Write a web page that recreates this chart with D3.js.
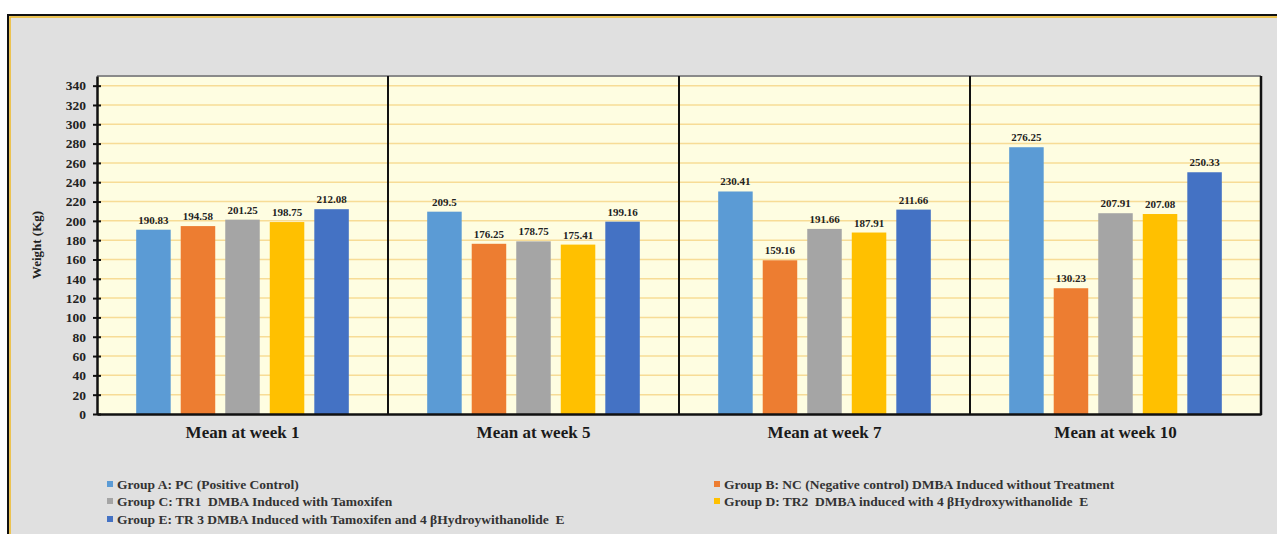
<!DOCTYPE html>
<html>
<head>
<meta charset="utf-8">
<script src="https://cdn.jsdelivr.net/npm/d3@7"></script>
<style>
  body { margin: 0; background: #fff; }
  svg text { font-family: "Times New Roman", "Liberation Serif", "DejaVu Serif", serif; font-weight: bold; white-space: pre; }
</style>
</head>
<body>
<div id="chart"></div>
<script>
// data
const weeks = ["Mean at week 1", "Mean at week 5", "Mean at week 7", "Mean at week 10"];
const groups = ["A", "B", "C", "D", "E"];
const groupNames = [
  "Group A: PC (Positive Control)",
  "Group B: NC (Negative control) DMBA Induced without Treatment",
  "Group C: TR1  DMBA Induced with Tamoxifen",
  "Group D: TR2  DMBA induced with 4 \u03b2Hydroxywithanolide  E",
  "Group E: TR 3 DMBA Induced with Tamoxifen and 4 \u03b2Hydroywithanolide  E"
];
const groupA = [190.83, 209.5, 230.41, 276.25];
const groupB = [194.58, 176.25, 159.16, 130.23];
const groupC = [201.25, 178.75, 191.66, 207.91];
const groupD = [198.75, 175.41, 187.91, 207.08];
const groupE = [212.08, 199.16, 211.66, 250.33];
const yTicks = d3.range(0, 341, 20);

const colors = ["#5b9bd5", "#ed7d31", "#a5a5a5", "#ffc000", "#4472c4"];
const series = [groupA, groupB, groupC, groupD, groupE];

const w = 1277, h = 534;
const padL = 97, padR = 1261, padT = 76, padB = 414;

const svg = d3.select("#chart").append("svg")
  .attr("width", w).attr("height", h);

// outer frame
svg.append("rect").attr("x", 8).attr("y", 15).attr("width", w).attr("height", h)
  .attr("fill", "#e0e0e0").attr("stroke", "#111").attr("stroke-width", 2);
svg.append("rect").attr("x", 10).attr("y", 17).attr("width", w).attr("height", h)
  .attr("fill", "none").attr("stroke", "#f0b923").attr("stroke-width", 1.5);

// scales
const x0 = d3.scaleBand().domain(weeks).range([padL, padR]);
const x1 = d3.scaleBand().domain(groups).range([0, x0.bandwidth()])
  .paddingInner(0.225).paddingOuter(0.88);
const y = d3.scaleLinear().domain([0, 350]).range([padB, padT]);

// plot background + grid
svg.append("rect").attr("x", padL).attr("y", padT)
  .attr("width", padR - padL).attr("height", padB - padT)
  .attr("fill", "#fefde1");
svg.append("g").selectAll("line").data(yTicks.filter(d => d > 0)).enter()
  .append("line")
  .attr("x1", padL).attr("x2", padR)
  .attr("y1", d => y(d)).attr("y2", d => y(d))
  .attr("stroke", "#f7dc96").attr("stroke-width", 1.5);

// bars
weeks.forEach((wk, i) => {
  const g = svg.append("g").attr("transform", "translate(" + x0(wk) + ",0)");
  g.selectAll("rect").data(groups).enter().append("rect")
    .attr("x", d => x1(d))
    .attr("y", (d, j) => y(series[j][i]))
    .attr("width", x1.bandwidth())
    .attr("height", (d, j) => padB - y(series[j][i]))
    .attr("fill", (d, j) => colors[j]);
  g.selectAll("text").data(groups).enter().append("text")
    .attr("x", d => x1(d) + x1.bandwidth() / 2)
    .attr("y", (d, j) => y(series[j][i]) - 6)
    .attr("text-anchor", "middle")
    .attr("font-size", 11)
    .attr("fill", "#222")
    .text((d, j) => String(series[j][i]));
});

// panel borders
svg.append("line").attr("x1", padL).attr("x2", padR).attr("y1", padT).attr("y2", padT)
  .attr("stroke", "#8a8a8a").attr("stroke-width", 2);
svg.append("g").selectAll("line").data(weeks.slice(1)).enter().append("line")
  .attr("x1", d => x0(d)).attr("x2", d => x0(d))
  .attr("y1", padT).attr("y2", padB)
  .attr("stroke", "#111").attr("stroke-width", 2);
svg.append("line").attr("x1", padR).attr("x2", padR).attr("y1", padT).attr("y2", padB + 1)
  .attr("stroke", "#111").attr("stroke-width", 2.5);

// x axis
const xAxis = svg.append("g").attr("transform", "translate(0," + padB + ")")
  .call(d3.axisBottom(x0).tickSize(0).tickPadding(12));
xAxis.select(".domain").attr("stroke", "#111").attr("stroke-width", 2.5);
xAxis.selectAll("text").attr("font-size", 17).attr("fill", "#1a1a1a");

// y axis
const yAxis = svg.append("g").attr("transform", "translate(" + padL + ",0)")
  .call(d3.axisLeft(y).tickValues(yTicks).tickSize(4).tickPadding(7)
    .tickSizeOuter(0));
yAxis.select(".domain").attr("stroke", "#111").attr("stroke-width", 2.5);
yAxis.selectAll(".tick line").attr("x1", -4).attr("x2", 4)
  .attr("stroke", "#111").attr("stroke-width", 2);
yAxis.selectAll("text").attr("font-size", 13.5).attr("fill", "#222");

svg.append("text")
  .attr("transform", "translate(41," + (padT + padB) / 2 + ") rotate(-90)")
  .attr("text-anchor", "middle")
  .attr("font-size", 13)
  .attr("fill", "#222")
  .text("Weight (Kg)");

// legend
const legendPos = [[107, 484], [714, 484], [107, 501], [714, 501], [107, 519]];
const legend = svg.append("g");
groupNames.forEach((name, i) => {
  const p = legendPos[i];
  legend.append("rect").attr("x", p[0]).attr("y", p[1] - 3)
    .attr("width", 6).attr("height", 6).attr("fill", colors[i]);
  legend.append("text").attr("x", p[0] + 10).attr("y", p[1] + 4.5)
    .attr("font-size", 13.5).attr("fill", "#333").text(name);
});
</script>
</body>
</html>
